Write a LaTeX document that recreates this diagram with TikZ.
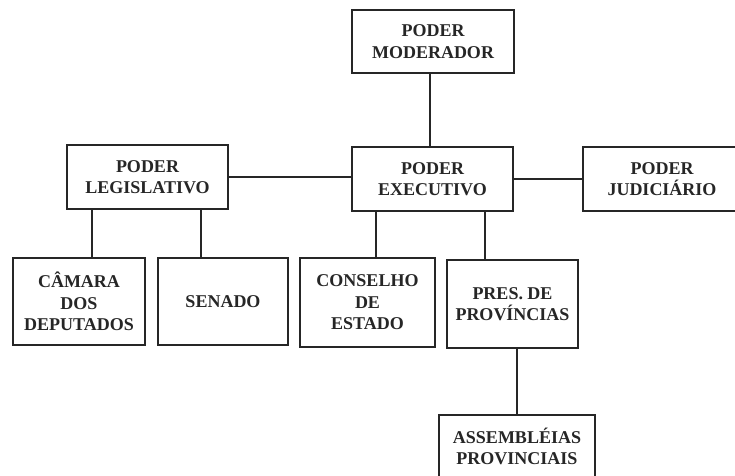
\documentclass[tikz,border=0pt]{standalone}
\usepackage{fontspec}
\setmainfont{Liberation Serif}
\begin{document}
\begin{tikzpicture}[x=1pt,y=-1pt,
  box/.style={draw=black!85, line width=1.6pt, align=center, inner sep=0pt,
    font=\bfseries\fontsize{18}{21.5}\selectfont, text=black!85},
  conn/.style={draw=black!85, line width=1.6pt}]
\useasboundingbox (0,0) rectangle (735,475);
\clip (0,0) rectangle (735,475);
\fill[white] (0,0) rectangle (735,475);
\node[box, minimum width=162pt, minimum height=63pt] (mod) at (433,41.5) {PODER\\MODERADOR};
\node[box, minimum width=161pt, minimum height=64pt] (exe) at (432.5,179) {PODER\\EXECUTIVO};
\node[box, minimum width=161pt, minimum height=64pt] (leg) at (147.5,177) {PODER\\LEGISLATIVO};
\node[box, minimum width=158pt, minimum height=64pt] (jud) at (662,179) {PODER\\JUDICIÁRIO};
\node[box, minimum width=132pt, minimum height=87pt] (cam) at (79,301.5) {CÂMARA\\DOS\\DEPUTADOS};
\node[box, minimum width=130pt, minimum height=87pt] (sen) at (223,301.5) {SENADO};
\node[box, minimum width=135pt, minimum height=89pt] (con) at (367.5,302.5) {CONSELHO\\DE\\ESTADO};
\node[box, minimum width=131pt, minimum height=88pt] (pre) at (512.5,304) {PRES. DE\\PROVÍNCIAS};
\node[box, minimum width=156pt, minimum height=63pt] (ass) at (517,446.5) {ASSEMBLÉIAS\\PROVINCIAIS};
\draw[conn] ([xshift=-3pt]mod.south) -- ([xshift=-3pt]mod.south |- exe.north);
\draw[conn] (leg.east) -- (leg.east -| exe.west);
\draw[conn] (exe.east) -- (jud.west);
\draw[conn] ([xshift=-55.5pt]leg.south) -- ([xshift=-55.5pt]leg.south |- cam.north);
\draw[conn] ([xshift=53.5pt]leg.south) -- ([xshift=53.5pt]leg.south |- sen.north);
\draw[conn] ([xshift=-56.5pt]exe.south) -- ([xshift=-56.5pt]exe.south |- con.north);
\draw[conn] ([xshift=52.5pt]exe.south) -- ([xshift=52.5pt]exe.south |- pre.north);
\draw[conn] (ass.north |- pre.south) -- (ass.north);
\end{tikzpicture}
\end{document}
